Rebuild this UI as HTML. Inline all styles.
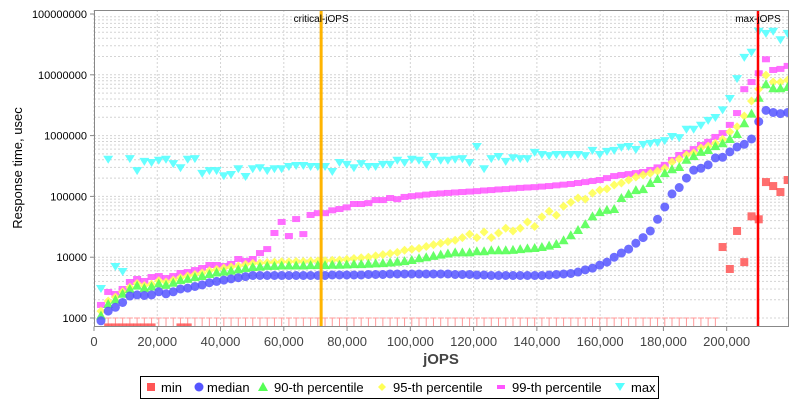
<!DOCTYPE html>
<html><head><meta charset="utf-8"><style>
html,body{margin:0;padding:0;background:#fff;}
svg{display:block;font-family:"Liberation Sans",sans-serif;}
</style></head><body>
<svg id="chart" width="800" height="400" viewBox="0 0 800 400" xmlns="http://www.w3.org/2000/svg">
<rect x="0" y="0" width="800" height="400" fill="#fff"/>
<g id="grid"></g>
<g id="marks"></g>
<g id="axes"></g>
<text transform="translate(22,168) rotate(-90)" text-anchor="middle" font-size="13" fill="#000">Response time, usec</text>
<text x="441" y="364" text-anchor="middle" font-size="15" font-weight="bold" fill="#444">jOPS</text>
<g>
<rect x="140.5" y="376.5" width="518" height="22" fill="#fff" stroke="#000"/>
<rect x="147" y="383" width="8" height="8" fill="#ff5555"/><text x="161" y="392" font-size="13">min</text>
<circle cx="199" cy="387" r="4.5" fill="#5555ff"/><text x="207" y="392" font-size="13">median</text>
<polygon points="263,382 268,391 258,391" fill="#55ff55"/><text x="274" y="392" font-size="13">90-th percentile</text>
<polygon points="382,383 386,387 382,391 378,387" fill="#ffff55"/><text x="393" y="392" font-size="13">95-th percentile</text>
<rect x="497" y="385" width="8" height="4" fill="#ff55ff"/><text x="512" y="392" font-size="13">99-th percentile</text>
<polygon points="615,383 625,383 620,391" fill="#55ffff"/><text x="631" y="392" font-size="13">max</text>
</g>
</svg>
<script>
const minVals=[500,700,700,700,700,700,700,700,500,500,500,700,700,500,500,500,500,500,500,500,500,500,500,500,500,500,500,500,500,500,500,500,500,500,500,500,500,500,500,500,500,500,500,500,500,500,500,500,500,500,500,500,500,500,500,500,500,500,500,500,500,500,500,500,500,500,500,500,500,500,500,500,500,500,500,500,500,500,500,500,500,500,500,500,500,500,14700,6400,27000,8300,47000,42000,172000,148000,118000,186000];
const medianVals=[900,1300,1500,1800,2300,2400,2350,2400,2700,2500,2700,3000,3100,3300,3500,3800,4000,4200,4400,4600,4800,5000,
5000,5000,5000,5000,5000,5000,5000,5000,5000,5000,5100,5100,5100,5100,5100,5200,5200,5200,5300,5300,5300,5300,5300,5300,5300,5300,5300,5200,
5200,5200,5100,5100,5000,5000,5000,5000,5000,5000,5000,5000,5100,5200,5300,5400,
5700,6200,6600,7400,8300,10000,11700,13600,17000,21000,27000,42000,67000,110000,140000,200000,270000,290000,330000,430000,440000,540000,650000,720000,880000,1700000,2600000,2400000,2300000,2400000];
const p90Vals=[1100,1700,2000,2500,3000,3400,3100,3300,3700,3500,3800,4200,4400,4700,4900,5300,5600,5800,6000,6300,6600,6900,
7000,7200,7200,7300,7300,7300,7300,7400,7400,7400,7500,7500,7600,7700,7700,7800,7900,8000,8200,8400,8600,9000,9600,10000,10500,11000,11500,12000,
12000,12000,12500,12500,13000,13000,13000,13200,13600,14000,14200,14700,15500,16500,19000,23000,
28000,35000,47000,55000,60000,62000,94000,110000,127000,132000,166000,193000,241000,280000,305000,400000,460000,540000,580000,670000,750000,880000,1060000,1600000,2300000,4200000,7000000,6000000,6000000,6300000];
const p95Vals=[1300,1900,2200,2700,3200,3700,3400,3600,4100,3900,4200,4600,4900,5200,5500,6000,6300,6600,6900,7200,7600,7900,
8000,8200,8300,8400,8400,8500,8500,8600,8700,8800,8900,9000,9200,9500,9800,10000,10500,11000,11500,12000,13000,13500,14000,15000,16000,17000,18000,19000,
21000,24000,21000,26000,21000,25000,30000,27000,
30000,38000,32000,46000,57000,49000,69000,80000,94000,90000,113000,127000,133000,154000,166000,186000,208000,225000,240000,260000,290000,366000,410000,480000,520000,625000,670000,750000,870000,1150000,1400000,2100000,3700000,5800000,9900000,7600000,7600000,8200000];
const p99Vals=[1640,2680,2480,3000,3910,4380,4060,4720,4900,4540,4900,5500,5700,6140,6640,7440,7440,7160,7730,9340,8670,9340,11700,13600,25000,38000,22300,42400,24000,49500,53000,53000,59000,62000,66000,75000,75000,77600,87000,87000,94000,90000,
98000,101000,104000,107000,110000,112000,114000,116000,118000,120000,122000,125000,127000,130000,132000,135000,138000,140000,142000,145000,148000,152000,156000,160000,166000,172000,179000,186000,200000,216000,
225000,233000,242000,252000,272000,300000,330000,398000,480000,520000,600000,700000,790000,950000,
1100000,1500000,2350000,5800000,7600000,10600000,18000000,12000000,12500000,14000000];
const maxVals=[3000,400000,6900,5700,410000,260000,370000,355000,385000,400000,340000,290000,400000,410000,235000,260000,260000,215000,225000,280000,208000,280000,290000,260000,280000,280000,305000,316000,316000,305000,305000,305000,252000,355000,330000,290000,340000,305000,305000,330000,330000,385000,
355000,400000,385000,330000,445000,385000,385000,400000,410000,355000,650000,280000,410000,445000,370000,425000,410000,410000,520000,480000,460000,480000,480000,480000,480000,460000,560000,480000,540000,560000,630000,650000,580000,700000,730000,755000,810000,950000,910000,1250000,1250000,1450000,1750000,1950000,2600000,4000000,8500000,19000000,23000000,51000000,47000000,51000000,37000000,47000000];
const xTicks=[0,20000,40000,60000,80000,100000,120000,140000,160000,180000,200000];
const xTickLabels=["0","20,000","40,000","60,000","80,000","100,000","120,000","140,000","160,000","180,000","200,000"];
const yTicks=[1000,10000,100000,1000000,10000000,100000000];
const yTickLabels=["1000","10000","100000","1000000","10000000","100000000"];
const criticalJops=71800;
const maxJops=209900;
const firstJops=2200, stepJops=2285;

const NS="http://www.w3.org/2000/svg";
const L=94,R=789,T=10,B=327;
function xs(v){return L+v*(R-L)/219700;}
function ys(v){return 318-(Math.log10(v)-3)*60.8;}
function mk(tag,attrs,parent){const e=document.createElementNS(NS,tag);for(const k in attrs)e.setAttribute(k,attrs[k]);parent.appendChild(e);return e;}
const grid=document.getElementById('grid'),marks=document.getElementById('marks'),axes=document.getElementById('axes');
mk('rect',{x:L,y:T,width:R-L,height:B-T,fill:'#fff'},grid);
for(let d=3;d<8;d++){for(let m=1;m<10;m++){const v=m*Math.pow(10,d);const y=ys(v);if(y<T)continue;
 const ln=mk('line',{x1:L,x2:R,y1:y,y2:y,stroke:'#d4d4d4','stroke-width':1,'stroke-dasharray':'2,2'},grid);
 
 }}
xTicks.forEach((v,i)=>{const x=xs(v);
 const g=mk('line',{x1:x,x2:x,y1:T,y2:B,stroke:'#d4d4d4','stroke-dasharray':'2,2'},grid);
 
 
 mk('line',{x1:x,x2:x,y1:B,y2:B+4,stroke:'#888'},axes);
 const t=mk('text',{x:x,y:B+19,'text-anchor':'middle','font-size':13,fill:'#444'},axes);t.textContent=xTickLabels[i];
 
 });
yTicks.forEach((v,i)=>{const y=ys(v);
 mk('line',{x1:L-4,x2:L,y1:y,y2:y,stroke:'#888'},axes);
 const t=mk('text',{x:L-7,y:y+4,'text-anchor':'end','font-size':11,fill:'#000'},axes);t.textContent=yTickLabels[i];
 
 });
mk('rect',{x:L+0.5,y:T+0.5,width:R-L-1,height:B-T-1,fill:'none',stroke:'#888'},axes);
const clip=mk('clipPath',{id:'pc'},marks);mk('rect',{x:L,y:T,width:R-L,height:B-T},clip);
const mg=mk('g',{'clip-path':'url(#pc)'},marks);
function jx(i){return xs(firstJops+i*stepJops);}
function drawSeries(vals,name,fn){vals.forEach((v,i)=>{if(v==null)return;const e=fn(jx(i),ys(v),v,i);
 
 });}
// min markers
minVals.forEach((v,i)=>{if(v<1000&&i>0){const x=jx(i);const g=mk('path',{d:`M${x-3},${B-9}H${x+3}M${x},${B-9}V${B}`,stroke:'#ff9999','stroke-width':1,fill:'none'},mg);
 
 }});
drawSeries(minVals,'min',(x,y)=>mk('rect',{x:x-4,y:y-4,width:8,height:8,fill:'#ff5555','fill-opacity':0.85},mg));
drawSeries(maxVals,'max',(x,y)=>mk('polygon',{points:`${x-5},${y-4} ${x+5},${y-4} ${x},${y+4}`,fill:'#55ffff','fill-opacity':0.9},mg));
drawSeries(p99Vals,'p99',(x,y)=>mk('rect',{x:x-4,y:y-3,width:8,height:6,fill:'#ff55ff','fill-opacity':0.85},mg));
drawSeries(p95Vals,'p95',(x,y)=>mk('polygon',{points:`${x},${y-4.5} ${x+4.5},${y} ${x},${y+4.5} ${x-4.5},${y}`,fill:'#ffff55','fill-opacity':0.9},mg));
drawSeries(p90Vals,'p90',(x,y)=>mk('polygon',{points:`${x},${y-5} ${x+5},${y+4} ${x-5},${y+4}`,fill:'#55ff55','fill-opacity':0.9},mg));
drawSeries(medianVals,'median',(x,y)=>mk('circle',{cx:x,cy:y,r:4.5,fill:'#5555ff','fill-opacity':0.85},mg));
const cx=xs(criticalJops),mx=xs(maxJops);
const cl=mk('line',{x1:cx,x2:cx,y1:T,y2:B,stroke:'#ffb400','stroke-width':3},marks);


const ml=mk('line',{x1:mx,x2:mx,y1:T,y2:B,stroke:'#ff0000','stroke-width':2.5},marks);


const ct=mk('text',{x:cx,y:22,'text-anchor':'middle','font-size':10,fill:'#000'},marks);ct.textContent='critical-jOPS';


const mt=mk('text',{x:mx,y:22,'text-anchor':'middle','font-size':10,fill:'#000'},marks);mt.textContent='max-jOPS';


</script>
</body></html>
